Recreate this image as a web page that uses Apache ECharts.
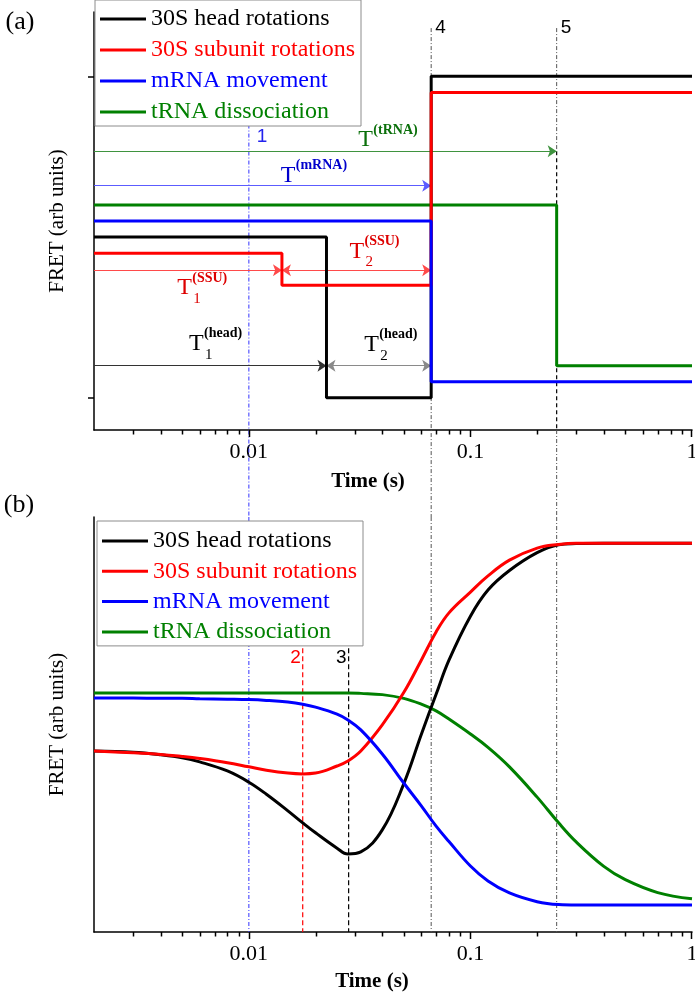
<!DOCTYPE html>
<html>
<head>
<meta charset="utf-8">
<script src="https://cdn.jsdelivr.net/npm/echarts@6/dist/echarts.min.js"></script>
<style>
html, body { margin: 0; padding: 0; background: #fff; }
#chart { width: 695px; height: 994px; }
</style>
</head>
<body>
<div id="chart"></div>
<script>
// ---- data ----
const seriesNames = ['30S head rotations', '30S subunit rotations', 'mRNA movement', 'tRNA dissociation'];
const seriesColors = ['#000000', '#ff0000', '#0000ff', '#008000'];

const majorTicks = [0.01, 0.1, 1];
const minorTicks = [0.003, 0.004, 0.005, 0.006, 0.007, 0.008, 0.009,
                    0.02, 0.03, 0.04, 0.05, 0.06, 0.07, 0.08, 0.09,
                    0.2, 0.3, 0.4, 0.5, 0.6, 0.7, 0.8, 0.9];
const yTicksA = [0, 1];

// (a) step levels
const headStepT = [0.002, 0.0224, 0.0665, 1];
const headStepV = [0.5, 0, 1, 1];
const ssuStepT = [0.002, 0.0141, 0.0665, 1];
const ssuStepV = [0.45, 0.35, 0.95, 0.95];
const mrnaStepT = [0.002, 0.0665, 1];
const mrnaStepV = [0.55, 0.05, 0.05];
const trnaStepT = [0.002, 0.245, 1];
const trnaStepV = [0.6, 0.1, 0.1];

// (a) time intervals: [from, to, level]
const trnaArrow = [0.002, 0.245, 0.767];
const mrnaArrow = [0.002, 0.0665, 0.66];
const ssu1Arrow = [0.002, 0.0141, 0.397];
const ssu2Arrow = [0.0141, 0.0665, 0.397];
const head1Arrow = [0.002, 0.0224, 0.1];
const head2Arrow = [0.0224, 0.0665, 0.1];

// reference times
const guideTimes = [0.01, 0.0665, 0.245];
const guideLabels = ['1', '4', '5'];
const guideTopA = [0.85, 1.15, 1.15];
const guideTimesB = [0.0175, 0.0282];
const guideLabelsB = ['2', '3'];

// (b) smooth curves
const curveT = [0.002, 0.003, 0.004, 0.005, 0.006, 0.008, 0.01, 0.012, 0.015, 0.0175, 0.02, 0.025, 0.028,
                0.032, 0.04, 0.05, 0.06, 0.07, 0.08, 0.1, 0.12, 0.15, 0.2, 0.25, 0.3, 0.4, 0.5, 0.7, 1];
const headCurve = [0.436, 0.433, 0.427, 0.420, 0.410, 0.388, 0.361, 0.332, 0.292, 0.263, 0.239, 0.202, 0.188,
                   0.193, 0.246, 0.357, 0.476, 0.573, 0.655, 0.761, 0.824, 0.871, 0.914, 0.933, 0.936, 0.937, 0.937, 0.937, 0.937];
const ssuCurve = [0.436, 0.432, 0.428, 0.423, 0.418, 0.408, 0.398, 0.390, 0.383, 0.381, 0.383, 0.400, 0.412,
                  0.436, 0.499, 0.577, 0.655, 0.723, 0.769, 0.819, 0.858, 0.896, 0.925, 0.934, 0.937, 0.937, 0.937, 0.937, 0.937];
const mrnaCurve = [0.564, 0.564, 0.563, 0.563, 0.562, 0.561, 0.560, 0.558, 0.554, 0.549, 0.542, 0.525, 0.511,
                   0.487, 0.429, 0.359, 0.304, 0.255, 0.218, 0.159, 0.123, 0.094, 0.073, 0.066, 0.065, 0.065, 0.065, 0.065, 0.065];
const trnaCurve = [0.576, 0.576, 0.576, 0.576, 0.576, 0.576, 0.576, 0.576, 0.576, 0.576, 0.576, 0.576, 0.576,
                   0.575, 0.572, 0.563, 0.549, 0.533, 0.513, 0.477, 0.445, 0.398, 0.325, 0.263, 0.217, 0.158, 0.126, 0.095, 0.080];

// T labels in (a)
const annoSup = ['(tRNA)', '(mRNA)', '(SSU)', '(SSU)', '(head)', '(head)'];
const annoSub = ['', '', '1', '2', '1', '2'];

// ---- layout / style ----
const GRID_A = { left: 94, top: 12, width: 598, height: 418 };
const GRID_B = { left: 94, top: 517, width: 598, height: 415 };
const X_RANGE = [0.002, 1];
const Y_A = [-0.1, 1.2];
const Y_B = [0, 1];
const SERIF = '"Liberation Serif", "Times New Roman", serif';
const SANS = '"Liberation Sans", Arial, sans-serif';
const DASHDOT = [4, 2, 1, 2];
const MAJOR_LEN = 7, MINOR_LEN = 4.5;

const annoPos = [[0.0312, 0.802], [0.01393, 0.692], [0.00475, 0.341], [0.02845, 0.456], [0.00537, 0.168], [0.0332, 0.165]];
const annoColors = ['#0b700b', '#0000cc', '#dd0000', '#dd0000', '#000000', '#000000'];
const guideStyleA = [
  { stroke: '#3333ff', lineWidth: 1, lineDash: DASHDOT },
  { stroke: '#555555', lineWidth: 1, lineDash: DASHDOT },
  { stroke: '#555555', lineWidth: 1, lineDash: DASHDOT }
];
const guideLabelColorA = ['#2222ee', '#000', '#000'];
const guideStyleB = [
  { stroke: '#ff0000', lineWidth: 1.2, lineDash: [5, 3] },
  { stroke: '#000000', lineWidth: 1.2, lineDash: [5, 3] }
];

// time axis is drawn on log10(t)
const lx = t => Math.log10(t);

const chart = echarts.init(document.getElementById('chart'));

function vseg(x, y1, y2, style) {
  return { type: 'line', shape: { x1: x, y1: y1, x2: x, y2: y2 }, style: style };
}

function xAxis(gridIndex) {
  return {
    gridIndex: gridIndex, type: 'value', min: lx(X_RANGE[0]), max: lx(X_RANGE[1]), position: 'bottom',
    splitLine: { show: false },
    axisLine: { show: true, onZero: false, lineStyle: { color: '#000', width: 1.5 } },
    axisTick: { show: false },
    axisLabel: {
      show: true, customValues: majorTicks.map(lx), margin: 11,
      formatter: v => String(Number(Math.pow(10, v).toPrecision(6))),
      fontFamily: SERIF, fontSize: 22, color: '#000'
    }
  };
}

const yName = {
  name: 'FRET (arb units)', nameLocation: 'middle', nameGap: 26,
  nameTextStyle: { fontFamily: SERIF, fontSize: 21, color: '#000' }
};

function legendFor(left, top, gap, padTop) {
  return {
    orient: 'vertical', left: left, top: top, icon: 'rect',
    itemWidth: 46, itemHeight: 3, itemGap: gap,
    padding: [padTop, 6, 2, 5],
    backgroundColor: '#fff', borderColor: '#8c8c8c', borderWidth: 1,
    selectedMode: false,
    textStyle: { fontFamily: SERIF, fontSize: 24, lineHeight: 24 },
    data: seriesNames.map((n, i) => ({ name: n, textStyle: { color: seriesColors[i] } }))
  };
}

const stepT = [headStepT, ssuStepT, mrnaStepT, trnaStepT];
const stepV = [headStepV, ssuStepV, mrnaStepV, trnaStepV];
const curves = [headCurve, ssuCurve, mrnaCurve, trnaCurve];
const drawOrder = [3, 0, 1, 2];

const stepSeries = drawOrder.map(i => ({
  name: seriesNames[i], type: 'line', xAxisIndex: 0, yAxisIndex: 0,
  step: 'end', symbol: 'none', showSymbol: false, color: seriesColors[i],
  lineStyle: { width: 3, color: seriesColors[i] }, z: 3, silent: true,
  data: stepT[i].map((t, k) => [lx(t), stepV[i][k]])
}));

const curveSeries = drawOrder.map(i => ({
  name: seriesNames[i], type: 'line', xAxisIndex: 1, yAxisIndex: 1,
  smooth: 0.4, symbol: 'none', showSymbol: false, color: seriesColors[i],
  lineStyle: { width: 3, color: seriesColors[i] }, z: 3, silent: true,
  data: curveT.map((t, k) => [lx(t), curves[i][k]])
}));

function arrowItem(a, color) {
  return { coords: [[lx(a[0]), a[2]], [lx(a[1]), a[2]]], lineStyle: { color: color } };
}

const textGraphics = [
  { type: 'text', x: 20, y: 22, style: { text: '(a)', font: '26px ' + SERIF, fill: '#000', align: 'center', verticalAlign: 'middle' } },
  { type: 'text', x: 19, y: 505, style: { text: '(b)', font: '26px ' + SERIF, fill: '#000', align: 'center', verticalAlign: 'middle' } },
  { type: 'text', x: 368, y: 482, style: { text: 'Time (s)', font: 'bold 21px ' + SERIF, fill: '#000', align: 'center', verticalAlign: 'middle' } },
  { type: 'text', x: 372, y: 982, style: { text: 'Time (s)', font: 'bold 21px ' + SERIF, fill: '#000', align: 'center', verticalAlign: 'middle' } }
];

const option = {
  animation: false,
  backgroundColor: '#fff',
  grid: [
    Object.assign({ outerBoundsMode: 'none', containLabel: false }, GRID_A),
    Object.assign({ outerBoundsMode: 'none', containLabel: false }, GRID_B)
  ],
  legend: [legendFor(95, 0, 7, 7), legendFor(97, 521, 6.3, 8)],
  xAxis: [xAxis(0), xAxis(1)],
  yAxis: [
    Object.assign({
      gridIndex: 0, type: 'value', min: Y_A[0], max: Y_A[1],
      axisLine: { show: true, onZero: false, lineStyle: { color: '#000', width: 1.5 } },
      axisTick: { show: true, customValues: yTicksA, length: 6, lineStyle: { color: '#000', width: 1.5 } },
      axisLabel: { show: false }, splitLine: { show: false }
    }, yName),
    Object.assign({
      gridIndex: 1, type: 'value', min: Y_B[0], max: Y_B[1],
      axisLine: { show: true, onZero: false, lineStyle: { color: '#000', width: 1.5 } },
      axisTick: { show: false }, axisLabel: { show: false }, splitLine: { show: false }
    }, yName)
  ],
  graphic: textGraphics,
  series: [
    // guide lines of panel (a), running down to panel (b)
    {
      type: 'custom', xAxisIndex: 0, yAxisIndex: 0, clip: false, z: 1, silent: true,
      data: guideTimes.map((t, i) => [lx(t), guideTopA[i]]),
      renderItem: (params, api) => {
        const i = params.dataIndex;
        const t = api.value(0);
        const top = api.coord([t, api.value(1)]);
        const axisY = api.coord([t, Y_A[0]])[1];
        const x = top[0];
        const st = guideStyleA[i];
        const kids = [];
        if (i === 2) {
          const yArrow = api.coord([t, trnaArrow[2]])[1];
          kids.push(vseg(x, top[1], yArrow, st));
          kids.push(vseg(x, yArrow, axisY, { stroke: '#000', lineWidth: 1.2, lineDash: [4, 3] }));
          kids.push(vseg(x, axisY, GRID_B.top, st));
        } else {
          kids.push(vseg(x, top[1], GRID_B.top, st));
        }
        const dy = i === 0 ? 12 : 0;
        const dx = i === 0 ? 8 : 4;
        kids.push({ type: 'text', x: x + dx, y: top[1] + dy,
          style: { text: guideLabels[i], font: '19px ' + SANS, fill: guideLabelColorA[i], align: 'left', verticalAlign: 'middle' } });
        return { type: 'group', children: kids };
      }
    },
    // same guide lines inside panel (b)
    {
      type: 'custom', xAxisIndex: 1, yAxisIndex: 1, clip: false, z: 1, silent: true,
      data: guideTimes.map(t => [lx(t), Y_B[1]]),
      renderItem: (params, api) => {
        const i = params.dataIndex;
        const t = api.value(0);
        const top = api.coord([t, api.value(1)]);
        const bot = api.coord([t, Y_B[0]]);
        return vseg(top[0], top[1], bot[1], guideStyleA[i]);
      }
    },
    {
      type: 'custom', xAxisIndex: 1, yAxisIndex: 1, clip: false, z: 1, silent: true,
      data: guideTimesB.map(t => [lx(t), 0.684]),
      renderItem: (params, api) => {
        const i = params.dataIndex;
        const t = api.value(0);
        const top = api.coord([t, api.value(1)]);
        const bot = api.coord([t, Y_B[0]]);
        return { type: 'group', children: [
          vseg(top[0], top[1], bot[1], guideStyleB[i]),
          { type: 'text', x: top[0] - 2, y: top[1] + 10,
            style: { text: guideLabelsB[i], font: '19px ' + SANS, fill: guideStyleB[i].stroke, align: 'right', verticalAlign: 'middle' } }
        ] };
      }
    },
    // interval arrows
    {
      type: 'lines', coordinateSystem: 'cartesian2d', xAxisIndex: 0, yAxisIndex: 0,
      symbol: ['none', 'arrow'], symbolSize: 9, z: 2, silent: true,
      lineStyle: { width: 1, opacity: 1, curveness: 0 },
      data: [
        arrowItem(trnaArrow, '#3f933f'),
        arrowItem(mrnaArrow, '#5c5cff'),
        arrowItem(ssu1Arrow, '#ff4a4a'),
        arrowItem(head1Arrow, '#333333')
      ]
    },
    {
      type: 'lines', coordinateSystem: 'cartesian2d', xAxisIndex: 0, yAxisIndex: 0,
      symbol: ['arrow', 'arrow'], symbolSize: 9, z: 2, silent: true,
      lineStyle: { width: 1, opacity: 1, curveness: 0 },
      data: [
        arrowItem(ssu2Arrow, '#ff4a4a'),
        arrowItem(head2Arrow, '#8a8a8a')
      ]
    },
    // T labels
    {
      type: 'custom', xAxisIndex: 0, yAxisIndex: 0, clip: false, z: 4, silent: true,
      data: annoPos.map(p => [lx(p[0]), p[1]]),
      renderItem: (params, api) => {
        const i = params.dataIndex;
        const p = api.coord([api.value(0), api.value(1)]);
        const c = annoColors[i];
        const kids = [
          { type: 'text', x: p[0], y: p[1], style: { text: 'T', font: '24px ' + SERIF, fill: c, align: 'left', verticalAlign: 'middle' } },
          { type: 'text', x: p[0] + 15, y: p[1] - 10, style: { text: annoSup[i], font: 'bold 14px ' + SERIF, fill: c, align: 'left', verticalAlign: 'middle' } }
        ];
        if (annoSub[i]) {
          kids.push({ type: 'text', x: p[0] + 16, y: p[1] + 11, style: { text: annoSub[i], font: '15px ' + SERIF, fill: c, align: 'left', verticalAlign: 'middle' } });
        }
        return { type: 'group', children: kids };
      }
    }
  ].concat(stepSeries, curveSeries)
};

chart.setOption(option);

// log-axis ticks (major + minor), positioned with the axis scale, drawn on a top layer
function toPixel(gi, value) {
  let p = null;
  try { p = chart.convertToPixel({ xAxisIndex: gi, yAxisIndex: gi }, value); } catch (e) { p = null; }
  if (!p || isNaN(p[0])) {
    try { p = chart.convertToPixel({ gridIndex: gi }, value); } catch (e) { p = null; }
  }
  return p;
}

const tickGraphics = [];
[[0, Y_A[0]], [1, Y_B[0]]].forEach(([gi, yMin]) => {
  majorTicks.map(t => [t, MAJOR_LEN]).concat(minorTicks.map(t => [t, MINOR_LEN])).forEach(([t, len]) => {
    const p = toPixel(gi, [lx(t), yMin]);
    if (!p || isNaN(p[0]) || isNaN(p[1])) return;
    const x = Math.min(Math.round(p[0]) + 0.5, GRID_A.left + GRID_A.width - 0.5);
    tickGraphics.push({
      type: 'line', z: 100, zlevel: 1, silent: true,
      shape: { x1: x, y1: p[1], x2: x, y2: p[1] + len },
      style: { stroke: '#000', lineWidth: 1.5 }
    });
  });
});
chart.setOption({ graphic: textGraphics.concat(tickGraphics) });
</script>
</body>
</html>
